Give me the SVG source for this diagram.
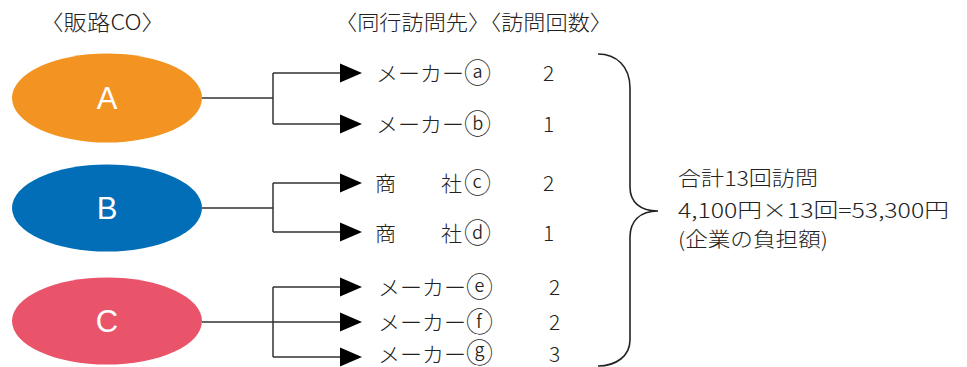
<svg xmlns="http://www.w3.org/2000/svg" width="967" height="367" viewBox="0 0 967 367">
<style>
.t{font-family:"Noto Sans CJK JP","Noto Sans",sans-serif;font-size:21px;font-weight:300;fill:#222;}
.s{font-size:20px;}
.c{font-size:27px;}
.lbl{font-family:"Liberation Sans","Noto Sans",sans-serif;font-size:31px;fill:#fff;text-anchor:middle;}
.ln{fill:none;stroke:#333;stroke-width:1.5;}
.ah{fill:#000;}
.br{fill:none;stroke:#222;stroke-width:1.6;}
</style>
<defs>
<polygon id="arr" points="0,-9.5 22,0 0,9.5" class="ah"/>
</defs>
<rect width="967" height="367" fill="#fff"/>
<g id="headers">
<text class="t" x="40" y="30" textLength="125" lengthAdjust="spacingAndGlyphs">〈販路CO〉</text>
<text class="t" x="335" y="30" textLength="277" lengthAdjust="spacingAndGlyphs">〈同行訪問先〉〈訪問回数〉</text>
</g>
<g id="nodeA">
<ellipse cx="107" cy="98" rx="95" ry="44.5" fill="#F39422"/>
<text class="lbl" x="107" y="109">A</text>
</g>
<g id="nodeB">
<ellipse cx="107" cy="208" rx="95" ry="43.5" fill="#036EB8"/>
<text class="lbl" x="107" y="219">B</text>
</g>
<g id="nodeC">
<ellipse cx="107" cy="321" rx="95" ry="43.5" fill="#E9546B"/>
<text class="lbl" x="107" y="332">C</text>
</g>
<g id="connectors">
<path class="ln" d="M202,98 H273 M273,73 V124 M273,73 H341 M273,124 H341"/>
<path class="ln" d="M202,208 H273 M273,183 V232 M273,183 H341 M273,232 H341"/>
<path class="ln" d="M202,322 H341 M273,287 V357 M273,287 H341 M273,357 H341"/>
<use href="#arr" x="340" y="73"/>
<use href="#arr" x="340" y="124"/>
<use href="#arr" x="340" y="183"/>
<use href="#arr" x="340" y="232"/>
<use href="#arr" x="340" y="287"/>
<use href="#arr" x="340" y="322"/>
<use href="#arr" x="340" y="357"/>
</g>
<g id="items">
<text class="t" y="81"><tspan x="376" textLength="88" lengthAdjust="spacingAndGlyphs">メーカー</tspan><tspan class="c" x="464" dy="2">ⓐ</tspan></text>
<text class="t" x="543" y="81">2</text>
<text class="t" y="132"><tspan x="376" textLength="88" lengthAdjust="spacingAndGlyphs">メーカー</tspan><tspan class="c" x="464" dy="2">ⓑ</tspan></text>
<text class="t" x="543" y="132">1</text>
<text class="t" y="191"><tspan x="375">商</tspan><tspan x="441">社</tspan><tspan class="c" x="464" dy="2">ⓒ</tspan></text>
<text class="t" x="543" y="191">2</text>
<text class="t" y="241"><tspan x="375">商</tspan><tspan x="441">社</tspan><tspan class="c" x="464" dy="2">ⓓ</tspan></text>
<text class="t" x="543" y="241">1</text>
<text class="t" y="295"><tspan x="378" textLength="88" lengthAdjust="spacingAndGlyphs">メーカー</tspan><tspan class="c" x="466" dy="2">ⓔ</tspan></text>
<text class="t" x="549" y="295">2</text>
<text class="t" y="330"><tspan x="378" textLength="88" lengthAdjust="spacingAndGlyphs">メーカー</tspan><tspan class="c" x="466" dy="2">ⓕ</tspan></text>
<text class="t" x="549" y="330">2</text>
<text class="t" y="362"><tspan x="378" textLength="88" lengthAdjust="spacingAndGlyphs">メーカー</tspan><tspan class="c" x="466" dy="1">ⓖ</tspan></text>
<text class="t" x="549" y="362">3</text>
</g>
<g id="brace">
<path class="br" d="M598,54 C616,54 630,66 630,88 L630,187 C630,202 640,211 658,211 C640,211 630,221 630,237 L630,340 C630,356 616,366 598,366"/>
</g>
<g id="summary">
<text class="t s" x="678" y="186" textLength="140" lengthAdjust="spacingAndGlyphs">合計13回訪問</text>
<text class="t s" x="678" y="218" textLength="271" lengthAdjust="spacingAndGlyphs">4,100円×13回=53,300円</text>
<text class="t s" x="678" y="247" textLength="150" lengthAdjust="spacingAndGlyphs">(企業の負担額)</text>
</g>
</svg>
